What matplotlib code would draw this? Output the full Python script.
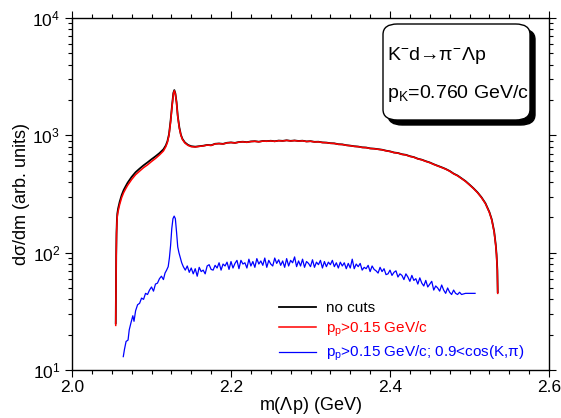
import numpy as np
import matplotlib
matplotlib.use("Agg")
import matplotlib.pyplot as plt
from matplotlib.patches import FancyBboxPatch
from matplotlib.ticker import MultipleLocator, LogLocator, LogFormatterSciNotation, NullFormatter

plt.rcParams['font.family'] = ['Liberation Sans', 'DejaVu Sans']
plt.rcParams['mathtext.fontset'] = 'custom'
plt.rcParams['mathtext.rm'] = 'Liberation Sans'
plt.rcParams['mathtext.it'] = 'Liberation Sans'
plt.rcParams['mathtext.bf'] = 'Liberation Sans:bold'
plt.rcParams['mathtext.sf'] = 'Liberation Sans'

# ---------------- data ----------------
m_main = [2.0550, 2.0553, 2.0556, 2.0560, 2.0565, 2.0570, 2.058, 2.060, 2.0625, 2.065,
          2.0675, 2.070, 2.075, 2.080, 2.085, 2.090, 2.095, 2.100, 2.105, 2.110,
          2.115, 2.118, 2.120, 2.122, 2.124, 2.126, 2.1275, 2.1287, 2.1300, 2.1315,
          2.133, 2.135, 2.137, 2.139, 2.142, 2.146, 2.150, 2.155, 2.160, 2.165,
          2.170, 2.175, 2.180, 2.185, 2.190, 2.195, 2.200, 2.205, 2.210, 2.215,
          2.220, 2.225, 2.230, 2.235, 2.240, 2.245, 2.250, 2.255, 2.260, 2.265,
          2.270, 2.275, 2.280, 2.285, 2.290, 2.295, 2.300, 2.305, 2.310, 2.315,
          2.320, 2.325, 2.330, 2.335, 2.340, 2.345, 2.350, 2.355, 2.360, 2.365,
          2.370, 2.375, 2.380, 2.385, 2.390, 2.395, 2.400, 2.405, 2.410, 2.415,
          2.420, 2.425, 2.430, 2.435, 2.440, 2.445, 2.450, 2.455, 2.460, 2.465,
          2.470, 2.475, 2.480, 2.485, 2.490, 2.495, 2.500, 2.505, 2.510, 2.515,
          2.520, 2.525, 2.528, 2.531, 2.533, 2.534, 2.535, 2.5355]

no_cuts = [25, 47, 95, 148, 190, 215, 238, 272, 310, 342,
           368, 395, 442, 485, 520, 555, 588, 625, 662, 705,
           760, 820, 890, 1020, 1330, 1840, 2300, 2430, 2280, 1920,
           1470, 1170, 1010, 930, 870, 828, 808, 800, 808, 815,
           828, 823, 847, 852, 846, 864, 870, 862, 877, 882,
           874, 887, 891, 882, 895, 892, 899, 890, 902, 897,
           907, 897, 904, 895, 900, 887, 892, 880, 882, 870,
           867, 857, 854, 840, 837, 824, 817, 807, 802, 790,
           787, 774, 770, 762, 754, 740, 730, 714, 707, 690,
           682, 664, 652, 632, 620, 602, 587, 567, 550, 534,
           517, 497, 472, 454, 430, 407, 380, 354, 327, 297,
           264, 222, 192, 152, 117, 97, 72, 46]

cut_pp = [24, 45, 90, 140, 180, 205, 225, 258, 295, 325,
          350, 375, 420, 462, 495, 530, 560, 598, 635, 680,
          735, 800, 870, 1000, 1300, 1800, 2250, 2400, 2250, 1900,
          1450, 1150, 1000, 920, 860, 820, 800, 795, 805, 812,
          826, 820, 845, 850, 843, 862, 868, 860, 875, 880,
          872, 885, 889, 880, 893, 890, 897, 888, 900, 895,
          905, 895, 902, 893, 898, 885, 890, 878, 880, 868,
          865, 855, 852, 838, 835, 822, 815, 805, 800, 788,
          785, 772, 768, 760, 752, 738, 728, 712, 705, 688,
          680, 662, 650, 630, 618, 600, 585, 565, 548, 532,
          515, 495, 470, 452, 428, 405, 378, 352, 325, 295,
          262, 220, 190, 150, 115, 95, 70, 45]

cut_pp_cos = [
    (2.0645, 13), (2.066, 15), (2.068, 17.5), (2.0705, 18), (2.072, 22), (2.074, 25),
    (2.0765, 29), (2.078, 26), (2.080, 32), (2.0825, 36), (2.085, 37), (2.0875, 41),
    (2.090, 40), (2.0925, 45), (2.095, 44), (2.0975, 48), (2.100, 51), (2.1025, 47),
    (2.105, 54), (2.1075, 55), (2.110, 60), (2.1125, 63), (2.115, 59), (2.117, 67),
    (2.119, 71), (2.121, 76), (2.1225, 90), (2.124, 115), (2.1255, 160), (2.127, 195),
    (2.1285, 205), (2.130, 195), (2.1315, 150), (2.133, 112), (2.1345, 100), (2.136, 92),
    (2.138, 82), (2.140, 76), (2.1425, 71), (2.145, 77), (2.1475, 68), (2.150, 74),
    (2.1525, 66), (2.155, 73), (2.1575, 63), (2.160, 75), (2.1625, 69), (2.165, 71),
    (2.1675, 66), (2.170, 77), (2.1725, 79), (2.175, 72), (2.1775, 71), (2.180, 78),
    (2.1825, 74), (2.185, 82), (2.1875, 71), (2.190, 80), (2.1925, 77), (2.195, 83),
    (2.1975, 72), (2.200, 84), (2.2025, 74), (2.205, 81), (2.2075, 86), (2.210, 73),
    (2.2125, 86), (2.215, 80), (2.2175, 82), (2.220, 74), (2.2225, 88), (2.225, 77),
    (2.2275, 84), (2.230, 75), (2.2325, 89), (2.235, 80), (2.2375, 85), (2.240, 78),
    (2.2425, 90), (2.245, 75), (2.2475, 86), (2.250, 80), (2.2525, 77), (2.255, 90),
    (2.2575, 81), (2.260, 87), (2.2625, 78), (2.265, 85), (2.2675, 75), (2.270, 89),
    (2.2725, 77), (2.275, 86), (2.2775, 82), (2.280, 92), (2.2825, 76), (2.285, 85),
    (2.2875, 77), (2.290, 88), (2.2925, 75), (2.295, 84), (2.2975, 81), (2.300, 76),
    (2.3025, 87), (2.305, 75), (2.3075, 83), (2.310, 79), (2.3125, 86), (2.315, 74),
    (2.3175, 84), (2.320, 76), (2.3225, 83), (2.325, 79), (2.3275, 86), (2.330, 76),
    (2.3325, 82), (2.335, 74), (2.3375, 83), (2.340, 77), (2.3425, 82), (2.345, 73),
    (2.3475, 81), (2.350, 74), (2.3525, 88), (2.355, 73), (2.3575, 80), (2.360, 76),
    (2.3625, 81), (2.365, 71), (2.3675, 75), (2.370, 73), (2.3725, 78), (2.375, 69),
    (2.3775, 77), (2.380, 72), (2.3825, 70), (2.385, 67), (2.3875, 75), (2.390, 69),
    (2.3925, 73), (2.395, 65), (2.3975, 66), (2.400, 71), (2.4025, 64), (2.405, 68),
    (2.4075, 70), (2.410, 62), (2.4125, 66), (2.415, 64), (2.4175, 59), (2.420, 66),
    (2.4225, 62), (2.425, 57), (2.4275, 64), (2.430, 58), (2.4325, 60), (2.435, 54),
    (2.4375, 61), (2.440, 55), (2.4425, 52), (2.445, 58), (2.4475, 51), (2.450, 54),
    (2.4525, 57), (2.455, 48), (2.4575, 52), (2.460, 50), (2.4625, 47), (2.465, 53),
    (2.4675, 48), (2.470, 45), (2.4725, 50), (2.475, 46), (2.4775, 44), (2.480, 48),
    (2.4825, 45), (2.485, 44), (2.4875, 46), (2.490, 44), (2.495, 45), (2.500, 45),
    (2.507, 45)]

labels = ["no cuts",
          r"p$_\mathregular{p}$>0.15 GeV/c",
          r"p$_\mathregular{p}$>0.15 GeV/c; 0.9<cos(K,$\pi$)"]
colors = ["black", "#ff0000", "#0000ff"]
box_lines = [r"K$^{-}$d→π$^{-}$Λp", r"p$_\mathregular{K}$=0.760 GeV/c"]

# ---------------- figure ----------------
W, H = 561, 418
fig = plt.figure(figsize=(W / 100, H / 100), dpi=100)
L, R, T, B = 72, 549, 18, 370
ax = fig.add_axes([L / W, 1 - B / H, (R - L) / W, (B - T) / H])

ax.plot(m_main, no_cuts, color=colors[0], lw=1.3, label=labels[0])
ax.plot(m_main, cut_pp, color=colors[1], lw=1.1, label=labels[1])
bm = [p[0] for p in cut_pp_cos]
bv = [p[1] for p in cut_pp_cos]
ax.plot(bm, bv, color=colors[2], lw=0.9, label=labels[2])

ax.set_yscale('log')
ax.set_xlim(2.0, 2.6)
ax.set_ylim(10, 1e4)
ax.xaxis.set_major_locator(MultipleLocator(0.2))
ax.xaxis.set_minor_locator(MultipleLocator(0.025))
ax.xaxis.set_major_formatter(matplotlib.ticker.FormatStrFormatter('%.1f'))
ax.yaxis.set_major_locator(LogLocator(base=10, numticks=10))
ax.yaxis.set_minor_locator(LogLocator(base=10, subs=np.arange(2, 10), numticks=20))
ax.yaxis.set_major_formatter(LogFormatterSciNotation())
ax.yaxis.set_minor_formatter(NullFormatter())
ax.tick_params(which='both', direction='out', top=True, right=True, labelsize=12.5, width=0.8)
ax.tick_params(which='major', length=5)
ax.tick_params(which='minor', length=3)
ax.tick_params(axis='x', which='major', pad=2.5)
for s in ax.spines.values():
    s.set_linewidth(1.0)

ax.set_xlabel(r"m($\Lambda$p) (GeV)", fontsize=13, labelpad=-0.5)
ax.set_ylabel(r"d$\sigma$/dm (arb. units)", fontsize=13, labelpad=0.5)

leg = ax.legend(loc='upper left', bbox_to_anchor=((279 - L) / (R - L), (B - 301) / (B - T)),
                frameon=False, fontsize=11, handlelength=2.4, handletextpad=0.7,
                labelspacing=0.32, borderaxespad=0, borderpad=0)
for t, c in zip(leg.get_texts(), colors):
    t.set_color(c)

# text box with shadow (pixel positions converted to axes fractions)
def fx(px):
    return (px - L) / (R - L)

def fy(py):
    return (B - py) / (B - T)

bx0, bx1, by0, by1 = 383, 530, 24, 120
sh = 5
shadow = FancyBboxPatch((fx(bx0 + sh), fy(by1 + sh)), fx(bx1) - fx(bx0), fy(by0) - fy(by1),
                        boxstyle="round,pad=0,rounding_size=0.03", transform=ax.transAxes,
                        facecolor='black', edgecolor='black', lw=1, zorder=5)
box = FancyBboxPatch((fx(bx0), fy(by1)), fx(bx1) - fx(bx0), fy(by0) - fy(by1),
                     boxstyle="round,pad=0,rounding_size=0.03", transform=ax.transAxes,
                     facecolor='white', edgecolor='black', lw=1, zorder=6)
ax.add_patch(shadow)
ax.add_patch(box)
ax.text(fx(387), fy(55), box_lines[0], transform=ax.transAxes, fontsize=14,
        va='center', ha='left', zorder=7)
ax.text(fx(387), fy(93), box_lines[1], transform=ax.transAxes, fontsize=14,
        va='center', ha='left', zorder=7)

fig.savefig("out.png", dpi=100)
